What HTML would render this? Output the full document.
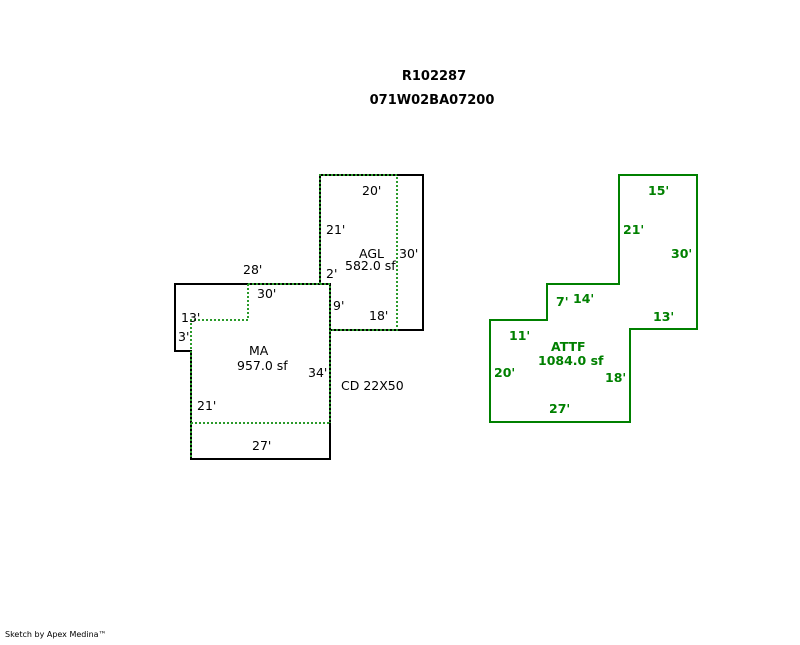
<!DOCTYPE html>
<html><head><style>
body{margin:0;background:#fff}
svg text{font-family:"DejaVu Sans",sans-serif;font-size:12.5px}
.g{fill:#008000;font-weight:bold;font-size:12.5px}
</style></head><body>
<svg width="800" height="640" xmlns="http://www.w3.org/2000/svg">
<text x="434" y="80" text-anchor="middle" style="font-weight:bold;font-size:13px">R102287</text>
<text x="432" y="104" text-anchor="middle" style="font-weight:bold;font-size:13px">071W02BA07200</text>
<g fill="none" stroke="#000" stroke-width="2">
<polygon points="320,175 423,175 423,330 330,330 330,284 320,284"/>
<polygon points="175,284 330,284 330,459 191,459 191,351 175,351"/>
</g>
<g fill="none" stroke="#2a9a2a" stroke-width="2" stroke-dasharray="2,2">
<polyline points="320,284 320,175 397,175 397,330 330,330"/>
<polyline points="248,284 330,284 330,423"/>
<polyline points="248,284 248,320 191,320 191,459"/>
<line x1="191" y1="423" x2="330" y2="423"/>
</g>
<text x="362" y="195">20'</text>
<text x="326" y="234">21'</text>
<text x="359" y="258">AGL</text>
<text x="345" y="270">582.0 sf</text>
<text x="399" y="258">30'</text>
<text x="326" y="278">2'</text>
<text x="243" y="274">28'</text>
<text x="257" y="298">30'</text>
<text x="333" y="310">9'</text>
<text x="369" y="320">18'</text>
<text x="181" y="322">13'</text>
<text x="178" y="341">3'</text>
<text x="249" y="355">MA</text>
<text x="237" y="370">957.0 sf</text>
<text x="308" y="377">34'</text>
<text x="341" y="390">CD 22X50</text>
<text x="197" y="410">21'</text>
<text x="252" y="450">27'</text>
<polygon points="619,175 697,175 697,329 630,329 630,422 490,422 490,320 547,320 547,284 619,284" fill="none" stroke="#008000" stroke-width="2"/>
<text class="g" x="648" y="195">15'</text>
<text class="g" x="623" y="234">21'</text>
<text class="g" x="671" y="258">30'</text>
<text class="g" x="556" y="306">7'</text>
<text class="g" x="573" y="303">14'</text>
<text class="g" x="653" y="321">13'</text>
<text class="g" x="509" y="340">11'</text>
<text class="g" x="551" y="351">ATTF</text>
<text class="g" x="538" y="365">1084.0 sf</text>
<text class="g" x="494" y="377">20'</text>
<text class="g" x="605" y="382">18'</text>
<text class="g" x="549" y="413">27'</text>
<text x="5" y="637" style="font-size:8px">Sketch by Apex Medina™</text>
</svg>
</body></html>
